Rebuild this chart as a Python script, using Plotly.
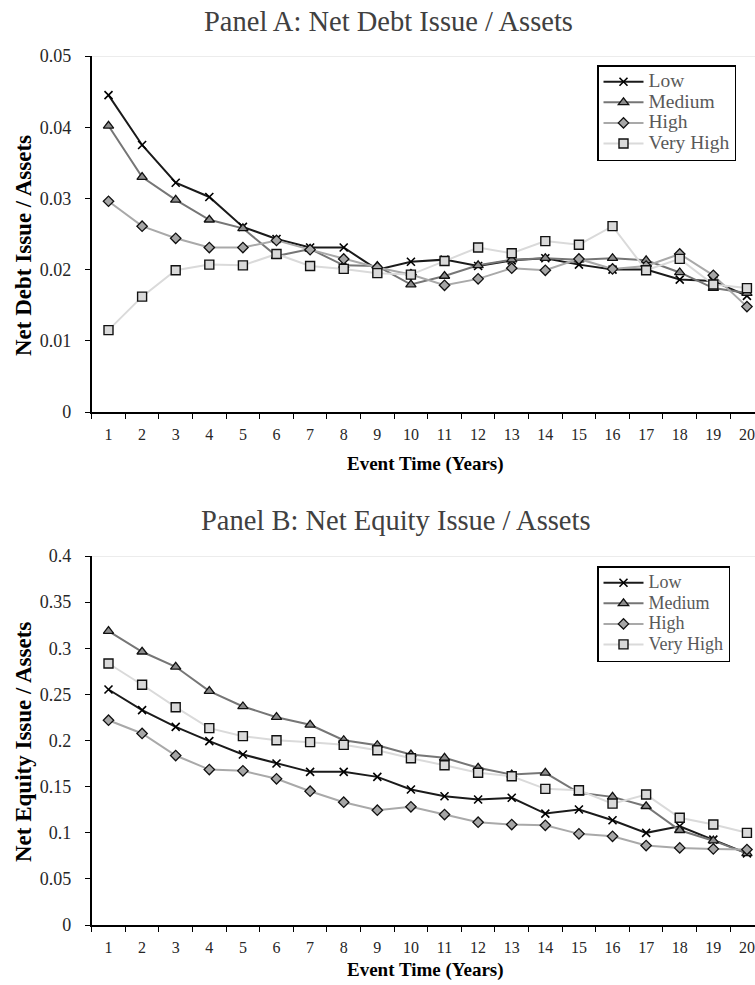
import plotly.graph_objects as go

# Event years on the horizontal axis
years = [str(i) for i in range(1, 21)]
series_names = ["Low", "Medium", "High", "Very High"]

# Panel A: net debt issue scaled by assets
debt_low = [0.0445, 0.0375, 0.0322, 0.0302, 0.0260, 0.0243, 0.0231, 0.0231, 0.0200, 0.0211,
            0.0214, 0.0205, 0.0213, 0.0216, 0.0207, 0.0200, 0.0200, 0.0186, 0.0184, 0.0163]
debt_medium = [0.0402, 0.0330, 0.0298, 0.0270, 0.0258, 0.0219, 0.0229, 0.0206, 0.0205, 0.0179,
               0.0191, 0.0206, 0.0214, 0.0216, 0.0214, 0.0216, 0.0213, 0.0196, 0.0174, 0.0167]
debt_high = [0.0296, 0.0261, 0.0244, 0.0231, 0.0231, 0.0241, 0.0228, 0.0215, 0.0203, 0.0193,
             0.0178, 0.0187, 0.0202, 0.0199, 0.0215, 0.0201, 0.0205, 0.0222, 0.0192, 0.0148]
debt_very_high = [0.0115, 0.0162, 0.0199, 0.0207, 0.0206, 0.0222, 0.0205, 0.0201, 0.0195, 0.0193,
                  0.0212, 0.0231, 0.0223, 0.0240, 0.0235, 0.0261, 0.0199, 0.0215, 0.0179, 0.0174]

# Panel B: net equity issue scaled by assets
equity_low = [0.2553, 0.2329, 0.2148, 0.1993, 0.1848, 0.1751, 0.1660, 0.1660, 0.1606, 0.1469,
              0.1396, 0.1360, 0.1379, 0.1208, 0.1252, 0.1136, 0.0999, 0.1070, 0.0926, 0.0777]
equity_medium = [0.3185, 0.2962, 0.2799, 0.2535, 0.2369, 0.2253, 0.2170, 0.2003, 0.1949, 0.1848,
                 0.1812, 0.1704, 0.1631, 0.1650, 0.1433, 0.1389, 0.1287, 0.1027, 0.0914, 0.0777]
equity_high = [0.2220, 0.2076, 0.1837, 0.1685, 0.1671, 0.1585, 0.1450, 0.1331, 0.1244, 0.1281,
               0.1197, 0.1114, 0.1089, 0.1081, 0.0988, 0.0962, 0.0861, 0.0836, 0.0825, 0.0818]
equity_very_high = [0.2835, 0.2604, 0.2361, 0.2134, 0.2047, 0.2003, 0.1982, 0.1953, 0.1895, 0.1808,
                    0.1732, 0.1650, 0.1613, 0.1476, 0.1461, 0.1316, 0.1414, 0.1162, 0.1089, 0.0999]

FONT = "Liberation Serif"

styles = {
    "Low": dict(line=dict(color="#1a1a1a", width=2),
                marker=dict(symbol="x-thin", size=8, line=dict(color="#000000", width=1.6))),
    "Medium": dict(line=dict(color="#767676", width=2),
                   marker=dict(symbol="triangle-up", size=9, color="#8c8c8c",
                               line=dict(color="#111111", width=1.3))),
    "High": dict(line=dict(color="#a9a9a9", width=2),
                 marker=dict(symbol="diamond", size=8, color="#a6a6a6",
                             line=dict(color="#111111", width=1.3))),
    "Very High": dict(line=dict(color="#dadada", width=2),
                      marker=dict(symbol="square", size=9, color="#d9d9d9",
                                  line=dict(color="#111111", width=1.4))),
}


def legend_label(name, size):
    return f'<span style="font-size:{size}px">{name}</span>'


fig = go.Figure()

panels = [
    ([debt_low, debt_medium, debt_high, debt_very_high], "x", "y", "legend", 19.5),
    ([equity_low, equity_medium, equity_high, equity_very_high], "x2", "y2", "legend2", 18),
]
for values, xa, ya, lg, lsize in panels:
    for name, vals in zip(series_names, values):
        st = styles[name]
        fig.add_trace(go.Scatter(
            x=years, y=vals, name=legend_label(name, lsize), mode="lines+markers",
            line=st["line"], marker=st["marker"],
            xaxis=xa, yaxis=ya, legend=lg,
        ))

W, H = 755, 985
x_dom = [91.7 / W, 1.0]
a_dom = [1 - 412 / H, 1 - 56 / H]
b_dom = [1 - 925 / H, 1 - 556 / H]

axis_line = dict(showgrid=False, zeroline=False, showline=True, linecolor="#000000",
                 linewidth=1.5, ticks="outside", ticklen=5, tickwidth=1.2,
                 tickcolor="#000000")
xaxis_common = dict(
    type="category", tickson="boundaries", range=[-0.5, 19.24],
    tickfont=dict(family=FONT, size=16, color="#262626"), ticklabelstandoff=7,
    domain=x_dom, **axis_line,
)
yaxis_common = dict(
    tickfont=dict(family=FONT, size=18, color="#262626"), ticklabelstandoff=10,
    **axis_line,
)

legend_common = dict(
    bgcolor="#ffffff", bordercolor="#000000", borderwidth=1.5,
    font=dict(family=FONT, size=13.5, color="#595959"),
    xanchor="left", yanchor="top", tracegroupgap=0, itemwidth=40,
)

fig.update_layout(
    width=W, height=H,
    margin=dict(l=0, r=0, t=0, b=0, autoexpand=False),
    paper_bgcolor="#ffffff", plot_bgcolor="#ffffff",
    font=dict(family=FONT),
    xaxis=dict(**xaxis_common, anchor="y"),
    xaxis2=dict(**xaxis_common, anchor="y2"),
    yaxis=dict(**yaxis_common, range=[0, 0.05], dtick=0.01, domain=a_dom, anchor="x"),
    yaxis2=dict(**yaxis_common, range=[0, 0.4], dtick=0.05, domain=b_dom, anchor="x2"),
    legend=dict(**legend_common, x=597 / W, y=1 - 65 / H),
    legend2=dict(**legend_common, x=597 / W, y=1 - 566 / H),
    showlegend=True,
)

# light rule along the top of each plot area
for ya, top in (("y", 0.05), ("y2", 0.4)):
    fig.add_shape(type="line", xref="paper", yref=ya, x0=x_dom[0], x1=1, y0=top, y1=top,
                  line=dict(color="#d9d9d9", width=1.2), layer="below")

title_font = dict(family=FONT, size=28.5, color="#404040")
x_title_font = dict(family=FONT, size=19, color="#000000")
y_title_font = dict(family=FONT, size=23, color="#000000")

annotations = [
    dict(text="Panel A: Net Debt Issue / Assets", x=388 / W, y=1 - 22 / H,
         font=title_font),
    dict(text="Panel B: Net Equity Issue / Assets", x=395 / W, y=1 - 520 / H,
         font=title_font),
    dict(text="<b>Event Time (Years)</b>", x=425 / W, y=1 - 464 / H, font=x_title_font),
    dict(text="<b>Event Time (Years)</b>", x=425 / W, y=1 - 970 / H, font=x_title_font),
    dict(text="<b>Net Debt Issue / Assets</b>", x=23 / W, y=1 - 246 / H,
         textangle=-90, font=y_title_font),
    dict(text="<b>Net Equity Issue / Assets</b>", x=23 / W, y=1 - 742 / H,
         textangle=-90, font=y_title_font),
]
for a in annotations:
    fig.add_annotation(xref="paper", yref="paper", showarrow=False,
                       xanchor="center", yanchor="middle", **a)

fig.write_html("out.html")
